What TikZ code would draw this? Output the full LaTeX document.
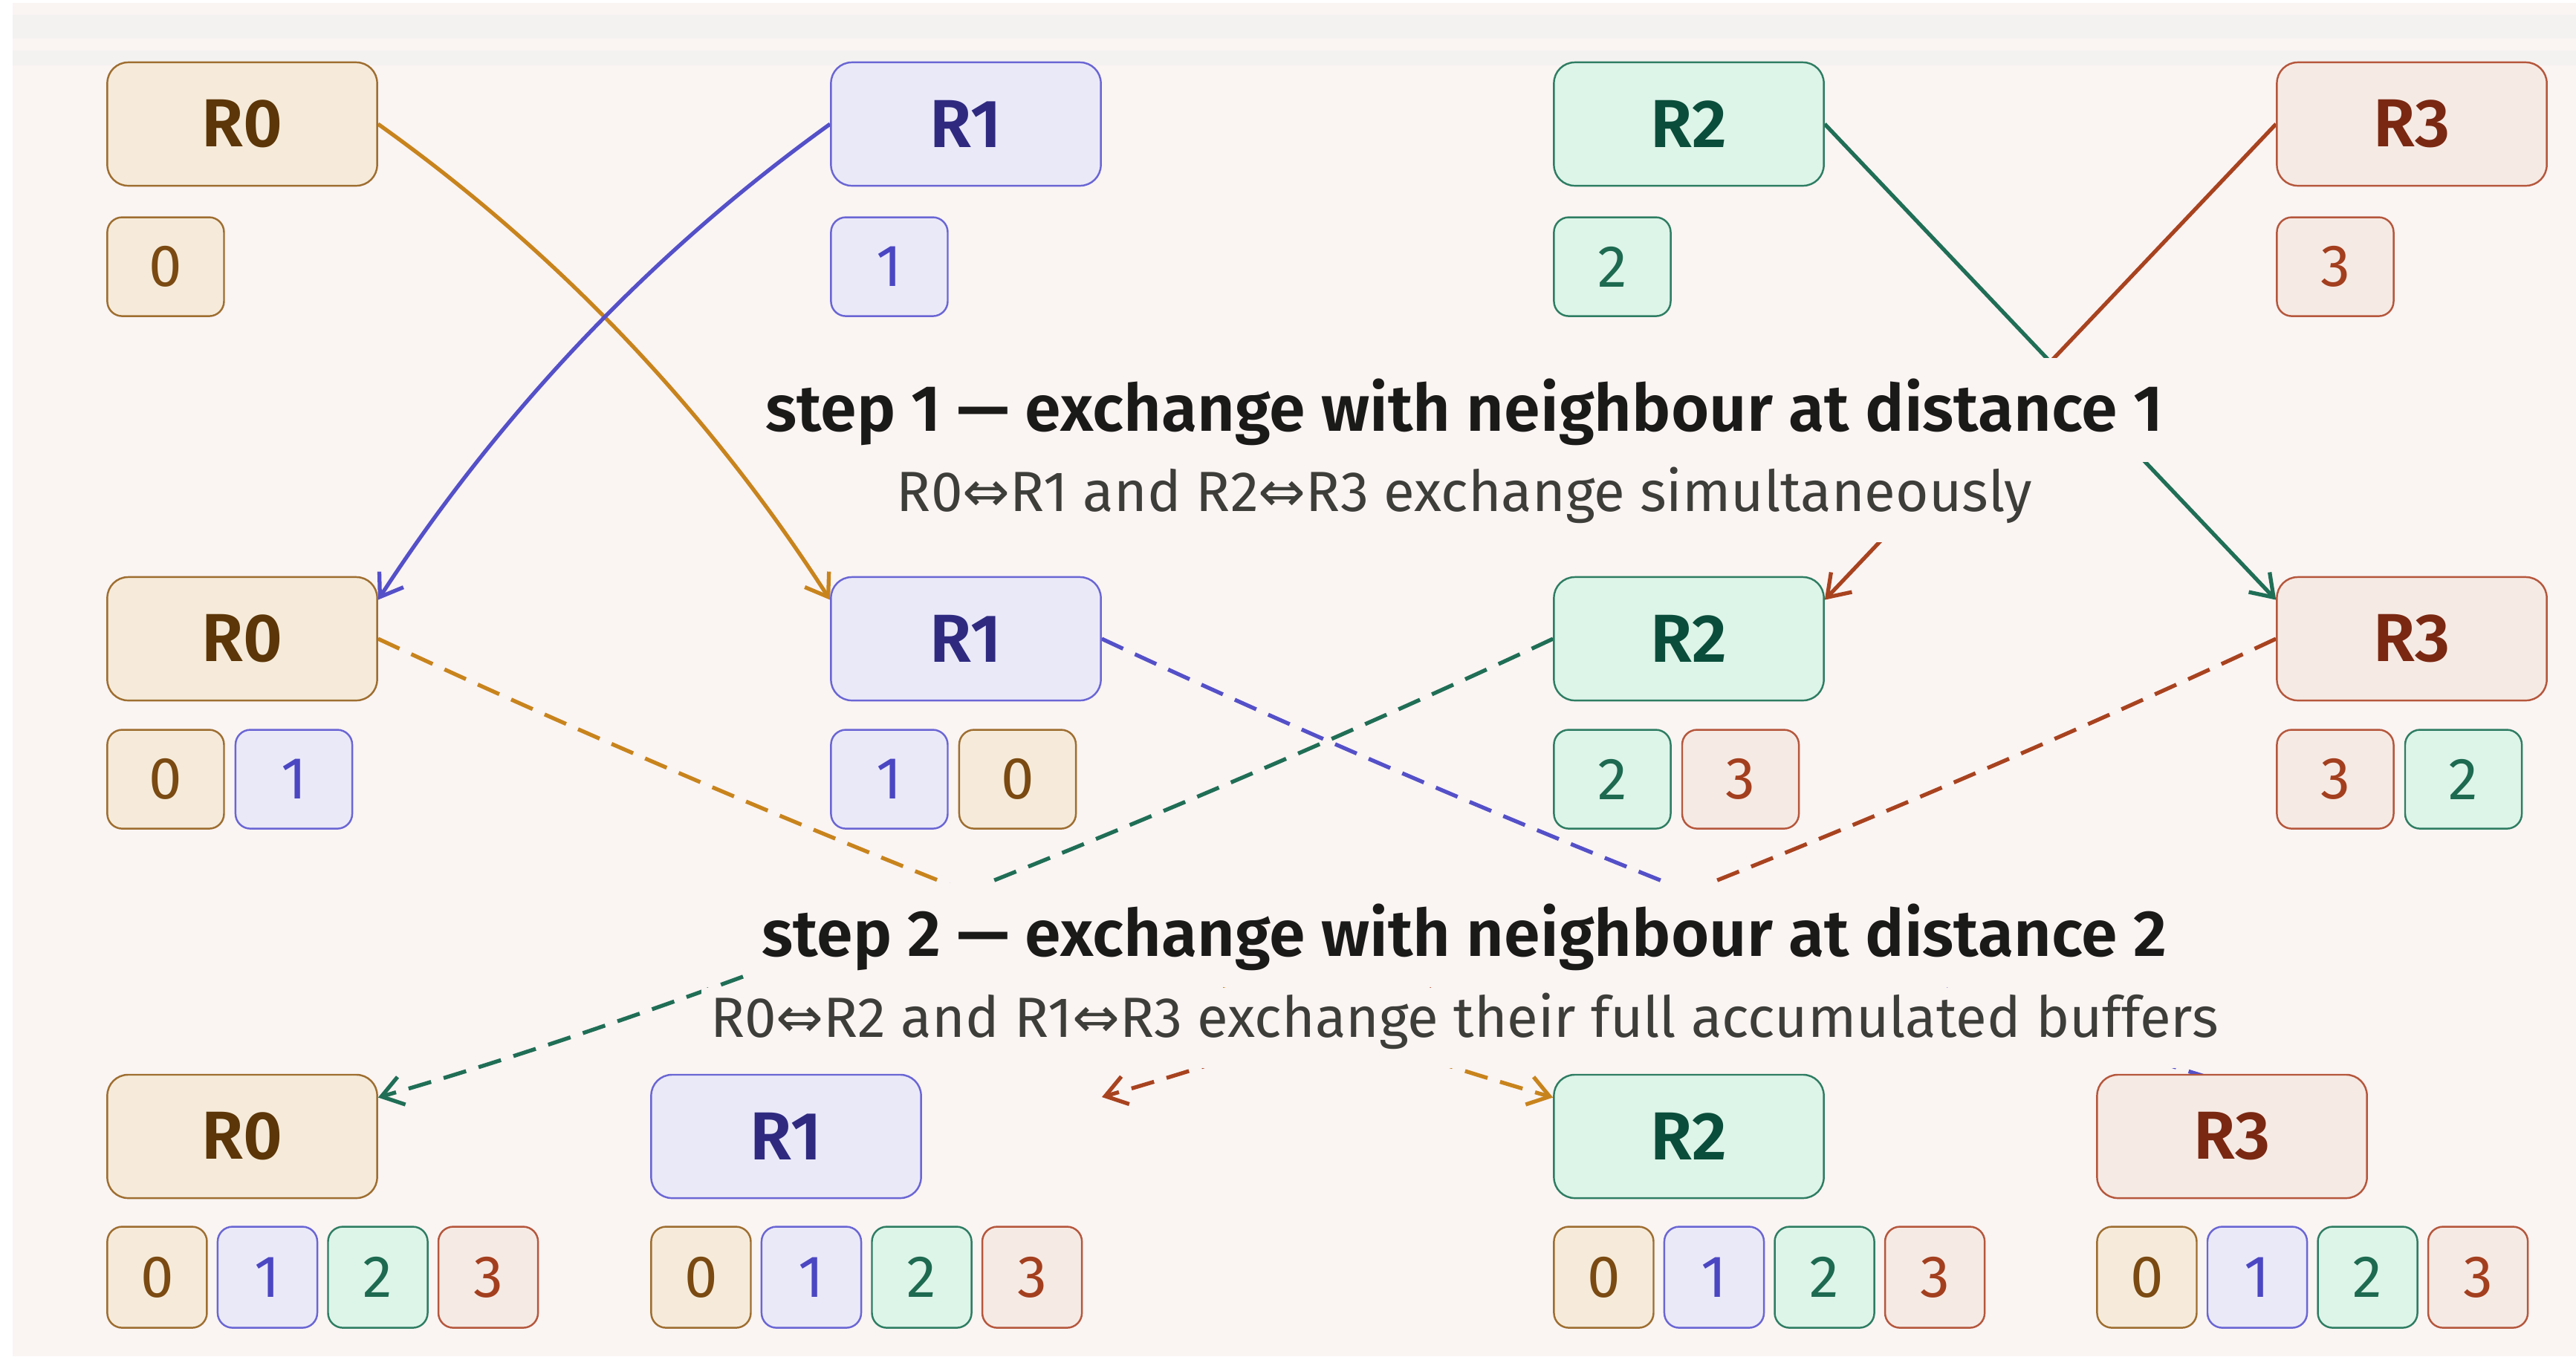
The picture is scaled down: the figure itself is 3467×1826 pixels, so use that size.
\documentclass[tikz,border=0pt]{standalone}
\usepackage{fontspec}
\setmainfont{Fira Sans}[BoldFont={Fira Sans SemiBold}]
\newfontfamily\arrowfont{DejaVu Sans}
\usetikzlibrary{arrows.meta,backgrounds,positioning}

\definecolor{page_bg}{HTML}{FAF4F3}
\definecolor{band_bg}{HTML}{F4F2F1}
\definecolor{title_ink}{HTML}{1A1A18}
\definecolor{note_ink}{HTML}{3D3D3A}
\definecolor{r0_fill}{HTML}{F6EBDA}
\definecolor{r0_line}{HTML}{9E6E30}
\definecolor{r0_text}{HTML}{5C3608}
\definecolor{r0_digit}{HTML}{7A4A12}
\definecolor{r0_arrow}{HTML}{C8841C}
\definecolor{r1_fill}{HTML}{EAE9F8}
\definecolor{r1_line}{HTML}{6A66D4}
\definecolor{r1_text}{HTML}{2F2A80}
\definecolor{r1_digit}{HTML}{4B47C2}
\definecolor{r1_arrow}{HTML}{5450C8}
\definecolor{r2_fill}{HTML}{DDF4E9}
\definecolor{r2_line}{HTML}{2E7D62}
\definecolor{r2_text}{HTML}{0A4D3A}
\definecolor{r2_digit}{HTML}{1D6A50}
\definecolor{r2_arrow}{HTML}{1F6E55}
\definecolor{r3_fill}{HTML}{F6EAE4}
\definecolor{r3_line}{HTML}{B5573C}
\definecolor{r3_text}{HTML}{7A2812}
\definecolor{r3_digit}{HTML}{A33F1E}
\definecolor{r3_arrow}{HTML}{A8431F}

\tikzset{
  rank/.style={draw, rounded corners=0.28cm, line width=0.7pt, inner sep=0pt,
    minimum width=3.63cm, minimum height=1.66cm, font=\fontsize{26}{30}\selectfont\bfseries},
  buf/.style={draw, rounded corners=0.2cm, line width=0.7pt, inner sep=0pt,
    minimum width=1.57cm, minimum height=1.33cm, font=\fontsize{22.7}{26}\selectfont},
  bufsm/.style={buf, minimum width=1.34cm, minimum height=1.36cm},
  c0/.style={fill=r0_fill, draw=r0_line, text=r0_text},
  c1/.style={fill=r1_fill, draw=r1_line, text=r1_text},
  c2/.style={fill=r2_fill, draw=r2_line, text=r2_text},
  c3/.style={fill=r3_fill, draw=r3_line, text=r3_text},
  d0/.style={c0, text=r0_digit},
  d1/.style={c1, text=r1_digit},
  d2/.style={c2, text=r2_digit},
  d3/.style={c3, text=r3_digit},
  hop/.style={line width=1.5pt, -{Straight Barb[length=8pt,width=11pt]}},
  hopdash/.style={hop, dash pattern=on 9pt off 5pt},
  steptitle/.style={fill=page_bg, anchor=base, inner xsep=0.12cm, inner ysep=0pt,
    text height=0.98cm, text depth=0.42cm, text=title_ink, font=\fontsize{25}{30}\selectfont\bfseries},
  stepnote/.style={fill=page_bg, anchor=base, inner xsep=0.12cm, inner ysep=0pt,
    text height=0.66cm, text depth=0.42cm, text=note_ink, font=\fontsize{21.7}{25}\selectfont}
}
\newcommand{\swap}{{\arrowfont ⇔}}

\begin{document}
\begin{tikzpicture}[x=0.01cm, y=-0.01cm]

      % ranks, one row per step
      \node[rank, c0] (R0a) at (326,167) {R0};
      \node[rank, c1] (R1a) at (1300,167) {R1};
      \node[rank, c2] (R2a) at (2273,167) {R2};
      \node[rank, c3] (R3a) at (3246,167) {R3};

      \node[rank, c0] (R0b) at (326,860) {R0};
      \node[rank, c1] (R1b) at (1300,860) {R1};
      \node[rank, c2] (R2b) at (2273,860) {R2};
      \node[rank, c3] (R3b) at (3246,860) {R3};

      \node[rank, c0] (R0c) at (326,1530) {R0};
      \node[rank, c1] (R1c) at (1058,1530) {R1};
      \node[rank, c2] (R2c) at (2273,1530) {R2};
      \node[rank, c3] (R3c) at (3004,1530) {R3};

      % buffers
      \node[buf, d0, below=0.4cm of R0a.south west, anchor=north west] (b0a1) {0};
      \node[buf, d1, below=0.4cm of R1a.south west, anchor=north west] (b1a1) {1};
      \node[buf, d2, below=0.4cm of R2a.south west, anchor=north west] (b2a1) {2};
      \node[buf, d3, below=0.4cm of R3a.south west, anchor=north west] (b3a1) {3};

      \node[buf, d0, below=0.37cm of R0b.south west, anchor=north west] (b0b1) {0};
      \node[buf, d1, right=0.13cm of b0b1] (b0b2) {1};
      \node[buf, d1, below=0.37cm of R1b.south west, anchor=north west] (b1b1) {1};
      \node[buf, d0, right=0.13cm of b1b1] (b1b2) {0};
      \node[buf, d2, below=0.37cm of R2b.south west, anchor=north west] (b2b1) {2};
      \node[buf, d3, right=0.13cm of b2b1] (b2b2) {3};
      \node[buf, d3, below=0.37cm of R3b.south west, anchor=north west] (b3b1) {3};
      \node[buf, d2, right=0.13cm of b3b1] (b3b2) {2};

      \foreach \r in {0,1,2,3} {
        \node[bufsm, d0, below=0.36cm of R\r c.south west, anchor=north west] (b\r c1) {0};
        \node[bufsm, d1, right=0.12cm of b\r c1] (b\r c2) {1};
        \node[bufsm, d2, right=0.12cm of b\r c2] (b\r c3) {2};
        \node[bufsm, d3, right=0.12cm of b\r c3] (b\r c4) {3};
      }

      % step captions
      \node[steptitle] (s1) at (1971,580) {step 1 — exchange with neighbour at distance 1};
      \node[stepnote] (s1n) at (1971,688) {R0\swap R1 and R2\swap R3 exchange simultaneously};
      \node[steptitle] (s2) at (1971,1287) {step 2 — exchange with neighbour at distance 2};
      \node[stepnote] (s2n) at (1971,1396) {R0\swap R2 and R1\swap R3 exchange their full accumulated buffers};

      \coordinate (R1slot) at (1483,1477);
      \coordinate (R3slot) at (3061,1477);

      \begin{scope}[on background layer]
        \fill[white] (0,0) rectangle (3467,1826);
        \fill[page_bg] (17,4) rectangle (3467,1826);
        \fill[band_bg] (17,20) rectangle (3467,52);
        \fill[band_bg] (17,68) rectangle (3467,88);

        \draw[hop, r0_arrow] (R0a.east) .. controls (753,341) and (956,557) .. (R1b.164);
        \draw[hop, r1_arrow] (R1a.west) .. controls (875,341) and (672,557) .. (R0b.16);
        \draw[hop, r2_arrow] (R2a.east) -- (R3b.164);
        \draw[hop, r3_arrow] (R3a.west) -- (R2b.16);

        \draw[hopdash, r0_arrow] (R0b.east) .. controls (962,1071) and (1611,1339) .. (R2c.164);
        \draw[hopdash, r1_arrow] (R1b.east) .. controls (1934,1071) and (2583,1339) .. (R3slot);
        \draw[hopdash, r2_arrow] (R2b.west) .. controls (1639,1071) and (990,1339) .. (R0c.16);
        \draw[hopdash, r3_arrow] (R3b.west) .. controls (2612,1071) and (1963,1339) .. (R1slot);
      \end{scope}

    \end{tikzpicture}
\end{document}
